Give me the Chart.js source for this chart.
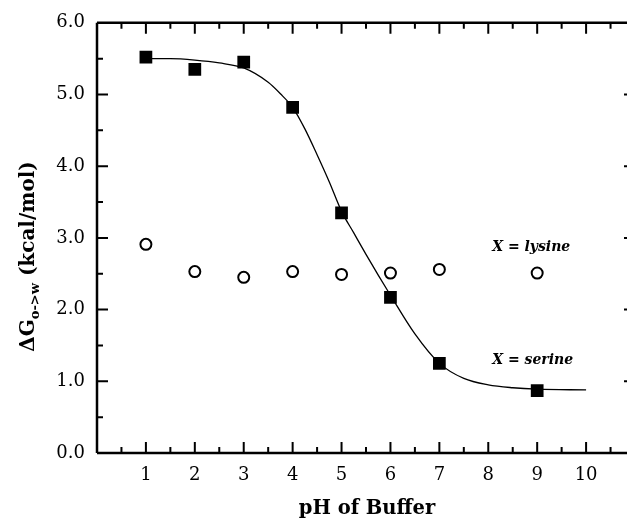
<!DOCTYPE html>
<html>
<head>
<meta charset="utf-8">
<script src="https://cdn.jsdelivr.net/npm/chart.js@4/dist/chart.umd.min.js"></script>
<style>
html,body{margin:0;padding:0;background:#fff;overflow:hidden;}
#wrap{width:627px;height:521px;overflow:hidden;position:relative;}
#c{position:absolute;left:0;top:0;}
</style>
</head>
<body>
<div id="wrap"><canvas id="c" width="647" height="521"></canvas></div>
<script>
// pH of buffer for the measured points
const phValues = [1, 2, 3, 4, 5, 6, 7, 9];
// X = serine (filled squares)
const serineDG = [5.52, 5.35, 5.45, 4.82, 3.35, 2.17, 1.25, 0.87];
// X = lysine (open circles)
const lysineDG = [2.91, 2.53, 2.45, 2.53, 2.49, 2.51, 2.56, 2.51];
// fitted curve
const fitPH = [1, 1.5, 2, 2.5, 3, 3.5, 3.75, 4, 4.25, 4.5, 4.75, 5, 5.25, 5.5, 5.75, 6, 6.5, 7, 7.5, 8, 8.5, 9, 10];
const fitDG = [5.50, 5.50, 5.48, 5.44, 5.37, 5.17, 5.01, 4.82, 4.52, 4.16, 3.78, 3.37, 3.07, 2.77, 2.48, 2.20, 1.66, 1.25, 1.04, 0.95, 0.91, 0.89, 0.88];
// axis tick labels
const xTickLabels = [1, 2, 3, 4, 5, 6, 7, 8, 9, 10];
const yTickLabels = [0, 1, 2, 3, 4, 5, 6];
const annotations = [
  {text: 'X = lysine', x: 8.08, y: 2.87},
  {text: 'X = serine', x: 8.08, y: 1.29}
];

const SERIF = '"DejaVu Serif", serif';

const framePlugin = {
  id: 'frame',
  afterDraw(chart) {
    const ctx = chart.ctx;
    const a = chart.chartArea;
    const xs = chart.scales.x, ys = chart.scales.y;
    ctx.save();
    ctx.strokeStyle = '#000';
    ctx.lineWidth = 2.5;
    ctx.beginPath();
    ctx.moveTo(a.left, a.top); ctx.lineTo(a.right, a.top);
    ctx.moveTo(a.left, a.top); ctx.lineTo(a.left, a.bottom);
    ctx.moveTo(a.left, a.bottom); ctx.lineTo(a.right, a.bottom);
    ctx.moveTo(a.right, a.top); ctx.lineTo(a.right, a.bottom);
    ctx.stroke();
    ctx.lineWidth = 2;
    ctx.beginPath();
    // x ticks (top and bottom, inward)
    for (let v = 0.5; v < xs.max; v += 0.5) {
      const major = Math.abs(v - Math.round(v)) < 1e-6;
      const len = major ? 11 : 6;
      const px = xs.getPixelForValue(v);
      ctx.moveTo(px, a.bottom); ctx.lineTo(px, a.bottom - len);
      ctx.moveTo(px, a.top); ctx.lineTo(px, a.top + len);
    }
    // y ticks (left and right, inward)
    for (let v = 0.5; v < ys.max; v += 0.5) {
      const major = Math.abs(v - Math.round(v)) < 1e-6;
      const len = major ? 11 : 6;
      const py = ys.getPixelForValue(v);
      ctx.moveTo(a.left, py); ctx.lineTo(a.left + len, py);
      ctx.moveTo(a.right, py); ctx.lineTo(a.right - len, py);
    }
    ctx.stroke();

    // annotations
    ctx.fillStyle = '#000';
    ctx.font = 'italic bold 14px ' + SERIF;
    ctx.textAlign = 'left';
    ctx.textBaseline = 'middle';
    annotations.forEach(t => {
      ctx.fillText(t.text, xs.getPixelForValue(t.x), ys.getPixelForValue(t.y));
    });

    // x title
    ctx.font = 'bold 19.5px ' + SERIF;
    ctx.textAlign = 'center';
    ctx.textBaseline = 'alphabetic';
    ctx.fillText('pH of Buffer', 367, 514);

    // y title with subscript
    const parts = [
      {t: '\u0394G', font: 'bold 20px ' + SERIF, dy: 0},
      {t: 'o->w', font: 'bold 13px ' + SERIF, dy: 5},
      {t: ' (kcal/mol)', font: 'bold 20px ' + SERIF, dy: 0}
    ];
    let total = 0;
    parts.forEach(p => { ctx.font = p.font; p.w = ctx.measureText(p.t).width; total += p.w; });
    ctx.translate(34, 256.5);
    ctx.rotate(-Math.PI / 2);
    ctx.textAlign = 'left';
    let cx = -total / 2;
    parts.forEach(p => {
      ctx.font = p.font;
      ctx.fillText(p.t, cx, p.dy);
      cx += p.w;
    });
    ctx.restore();
  }
};

new Chart(document.getElementById('c'), {
  type: 'scatter',
  data: {
    datasets: [
      {
        label: 'fit',
        data: fitPH.map((x, i) => ({x: x, y: fitDG[i]})),
        showLine: true,
        borderColor: '#000',
        borderWidth: 1.3,
        pointRadius: 0,
        cubicInterpolationMode: 'monotone',
        fill: false
      },
      {
        label: 'X = serine',
        data: phValues.map((x, i) => ({x: x, y: serineDG[i]})),
        pointStyle: 'rect',
        pointRadius: 9,
        backgroundColor: '#000',
        borderColor: '#000',
        borderWidth: 0
      },
      {
        label: 'X = lysine',
        data: phValues.map((x, i) => ({x: x, y: lysineDG[i]})),
        pointStyle: 'circle',
        pointRadius: 5.5,
        backgroundColor: '#fff',
        borderColor: '#000',
        borderWidth: 2
      }
    ]
  },
  options: {
    responsive: false,
    animation: false,
    events: [],
    layout: {padding: {top: 20, right: 0, left: 0, bottom: 0}},
    plugins: {legend: {display: false}, tooltip: {enabled: false}},
    scales: {
      x: {
        type: 'linear',
        min: 0,
        max: 11,
        grid: {display: false, drawTicks: false},
        border: {display: false},
        ticks: {
          stepSize: 1,
          padding: 12,
          color: '#000',
          font: {family: SERIF, size: 18},
          maxRotation: 0,
          autoSkip: false,
          callback: (v) => xTickLabels.includes(v) ? String(v) : ''
        },
        afterFit: (s) => { s.height = 68; }
      },
      y: {
        type: 'linear',
        min: 0,
        max: 6,
        grid: {display: false, drawTicks: false},
        border: {display: false},
        ticks: {
          stepSize: 1,
          padding: 12,
          color: '#000',
          font: {family: SERIF, size: 18},
          callback: (v) => yTickLabels.includes(v) ? v.toFixed(1) : ''
        },
        afterFit: (s) => { s.width = 97; }
      }
    }
  },
  plugins: [framePlugin]
});
</script>
</body>
</html>
